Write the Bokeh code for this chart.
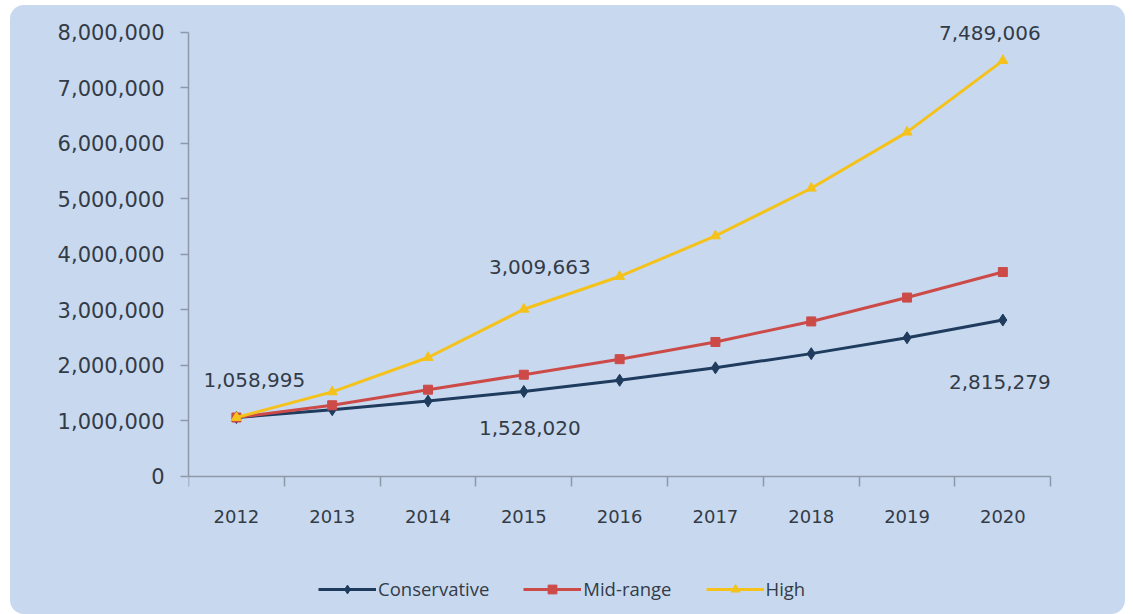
from bokeh.plotting import figure
from bokeh.models import Range1d, FixedTicker, NumeralTickFormatter, Legend, LegendItem, ColumnDataSource
from bokeh.embed import file_html
from bokeh.resources import INLINE
from bokeh.core.properties import value

years = ["2012", "2013", "2014", "2015", "2016", "2017", "2018", "2019", "2020"]
conservative = [1058995, 1200000, 1355000, 1528020, 1730000, 1955000, 2210000, 2495000, 2815279]
mid_range = [1058995, 1280000, 1560000, 1830000, 2110000, 2420000, 2790000, 3220000, 3680000]
high = [1058995, 1520000, 2140000, 3009663, 3600000, 4330000, 5190000, 6200000, 7489006]
y_ticks = [0, 1000000, 2000000, 3000000, 4000000, 5000000, 6000000, 7000000, 8000000]

BG = "#c8d9ef"
TXT = "#333b47"
AX = "#8d98a8"
FONT = "DejaVu Sans"

xs = [i + 0.5 for i in range(len(years))]
n = len(years)
ymax = y_ticks[-1]

p = figure(width=1115, height=609, output_backend="svg", toolbar_location=None,
           x_range=Range1d(0, n + 0.3), y_range=Range1d(-0.3 * ymax, 1.04 * ymax),
           min_border_left=178, min_border_right=46, min_border_top=9, min_border_bottom=5)
p.margin = (5, 8, 0, 10)
p.styles = {"border-radius": "14px", "overflow": "hidden", "background-color": BG}
p.background_fill_color = None
p.border_fill_color = None
p.outline_line_color = None
p.xgrid.visible = False
p.ygrid.visible = False

# y axis
p.yaxis.ticker = FixedTicker(ticks=y_ticks)
p.yaxis.bounds = (0, ymax)
p.yaxis.formatter = NumeralTickFormatter(format="0,0")
p.yaxis.axis_line_color = AX
p.yaxis.axis_line_width = 1.5
p.yaxis.major_tick_line_color = AX
p.yaxis.major_tick_line_width = 1.5
p.yaxis.major_tick_out = 8
p.yaxis.major_tick_in = 0
p.yaxis.minor_tick_line_color = None
p.yaxis.major_label_text_font = FONT
p.yaxis.major_label_text_font_size = "21px"
p.yaxis.major_label_text_color = TXT
p.yaxis.major_label_standoff = 16

# x axis at y = 0: labels at category centres, tick marks at boundaries
p.xaxis.fixed_location = 0
p.xaxis.ticker = FixedTicker(ticks=xs, minor_ticks=list(range(n + 1)))
p.xaxis.bounds = (0, n)
p.xaxis.major_label_overrides = {x: y for x, y in zip(xs, years)}
p.xaxis.axis_line_color = AX
p.xaxis.axis_line_width = 1.5
p.xaxis.major_tick_line_color = None
p.xaxis.major_tick_out = 0
p.xaxis.major_tick_in = 0
p.xaxis.minor_tick_line_color = AX
p.xaxis.minor_tick_line_width = 1.5
p.xaxis.minor_tick_out = 10
p.xaxis.minor_tick_in = 0
p.xaxis.major_label_text_font = FONT
p.xaxis.major_label_text_font_size = "18px"
p.xaxis.major_label_text_color = TXT
p.xaxis.major_label_standoff = 24

series = [
    ("Conservative", conservative, "#1f3b5e", "diamond", 12),
    ("Mid-range", mid_range, "#cc4b48", "square", 9),
    ("High", high, "#f5c21b", "triangle", 10),
]
items = []
for name, vals, col, marker, size in series:
    src = ColumnDataSource(dict(x=xs, y=vals))
    lr = p.line("x", "y", source=src, line_color=col, line_width=3)
    sr = p.scatter("x", "y", source=src, marker=marker, size=size, fill_color=col, line_color=col)
    items.append(LegendItem(label=name, renderers=[lr, sr]))

# data labels
lab_idx = [0, 3, 8, 3, 8]
lab_series = [conservative, high, high, conservative, conservative]
lab_y = [s[i] for s, i in zip(lab_series, lab_idx)]
lab_x = [xs[i] for i in lab_idx]
lab_txt = [f"{v:,}" for v in lab_y]
lab_dx = [18, 16, -13, 6, -3]
lab_dy = [-38, -42, -28, 37, 62]
lsrc = ColumnDataSource(dict(x=lab_x, y=lab_y, t=lab_txt, dx=lab_dx, dy=lab_dy))
p.text("x", "y", text="t", source=lsrc, x_offset="dx", y_offset="dy",
       text_align="center", text_baseline="middle", text_font=value(FONT),
       text_font_size="20px", text_color=TXT)

legend = Legend(items=items, orientation="horizontal", location=(130, 8))
legend.background_fill_alpha = 0
legend.border_line_color = None
legend.padding = 0
legend.margin = 0
legend.spacing = 34
legend.glyph_width = 58
legend.glyph_height = 22
legend.label_standoff = 2
legend.label_text_font = "Open Sans"
legend.label_text_font_size = "18.5px"
legend.label_text_color = TXT
p.add_layout(legend, "center")

open("out.html", "w").write(file_html(p, INLINE))
